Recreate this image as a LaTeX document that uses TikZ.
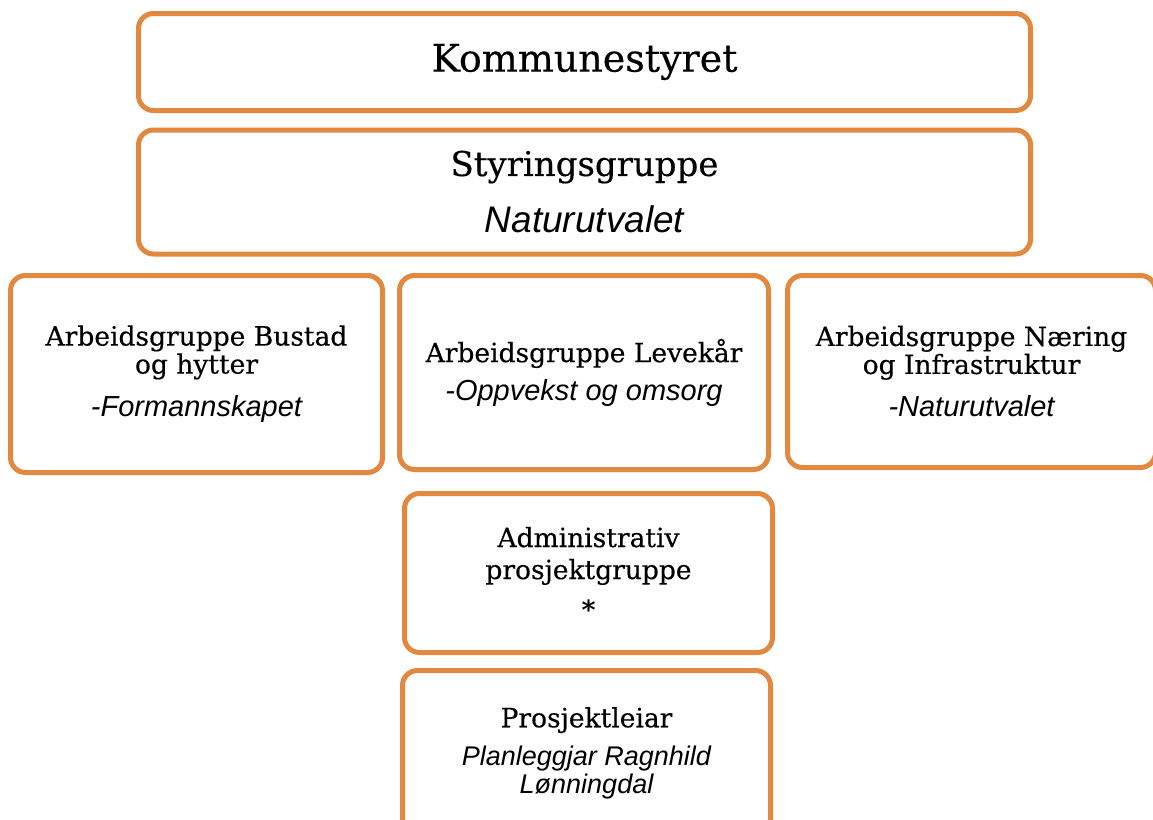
\documentclass[tikz,border=0pt]{standalone}
\usepackage{fontspec}
\setmainfont{DejaVu Serif}[FakeBold=0.4]
\newfontfamily\subfont{Liberation Sans}

\definecolor{boxorange}{RGB}{226,137,63}

\tikzset{
  orgbox/.style={draw=boxorange, line width=5pt, rounded corners=15pt,
    align=center, inner sep=0pt},
  bigbox/.style={orgbox, minimum width=892pt},
  smallbox/.style={orgbox, font={\fontsize{26.5}{28}\selectfont}},
}
\newcommand{\subtxt}[2][29]{{\subfont\itshape\fontsize{#1}{#1}\selectfont #2}}

\begin{document}
\begin{tikzpicture}[x=1pt,y=-1pt]
      \useasboundingbox (0,0) rectangle (1153,819);
      \clip (0,0) rectangle (1153,819);
      \node[bigbox, minimum height=97pt, font={\fontsize{38}{44}\selectfont}] (kommune) at (584.5,62) {Kommunestyret};
      \node[bigbox, minimum height=124pt, font={\fontsize{34}{40}\selectfont}] (styring) at (584.5,192) {Styringsgruppe\\[17pt]\subtxt[37]{Naturutvalet}};
      \node[smallbox, minimum width=372pt, minimum height=197pt] (bustad) at (196.5,374) {Arbeidsgruppe Bustad\\og hytter\\[15pt]\subtxt{-Formannskapet}};
      \node[smallbox, minimum width=369pt, minimum height=194pt] (levekaar) at (584,372.5) {Arbeidsgruppe Levekår\\[10pt]\subtxt{-Oppvekst og omsorg}};
      \node[smallbox, minimum width=368pt, minimum height=192pt] (naering) at (971.5,371.5) {Arbeidsgruppe Næring\\og Infrastruktur\\[15pt]\subtxt{-Naturutvalet}};
      \node[smallbox, minimum width=368pt, minimum height=159pt] (admin) at (588.5,573) {Administrativ\\[4pt]prosjektgruppe\\[12pt]*};
      \node[smallbox, minimum width=368pt, minimum height=165pt] (leiar) at (586.5,753) {Prosjektleiar\\[10pt]\subtxt[27]{Planleggjar Ragnhild}\\\subtxt[27]{Lønningdal}};
\end{tikzpicture}
\end{document}
